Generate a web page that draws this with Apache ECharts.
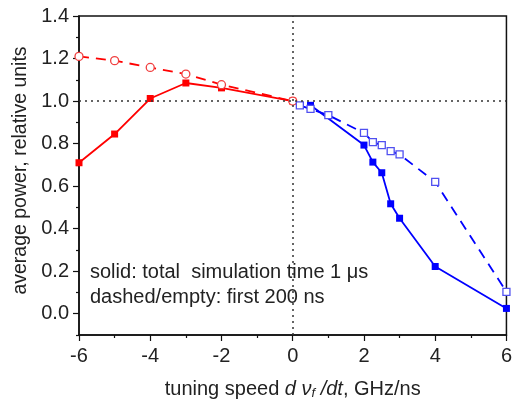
<!DOCTYPE html>
<html>
<head>
<meta charset="utf-8">
<script src="https://cdn.jsdelivr.net/npm/echarts@6/dist/echarts.min.js"></script>
<style>html,body{margin:0;padding:0;background:#fff}#c{width:515px;height:405px}</style>
</head>
<body>
<div id="c"></div>
<script>
// ---- data ----
const redSolidX = [-6, -5, -4, -3, -2, 0];
const redSolidY = [0.71, 0.845, 1.012, 1.085, 1.062, 1.0];
const redDashX = [-6, -5, -4, -3, -2, 0];
const redDashY = [1.21, 1.19, 1.158, 1.127, 1.077, 1.0];
const blueSolidX = [0.5, 2, 2.25, 2.5, 2.75, 3, 4, 6];
const blueSolidY = [0.98, 0.793, 0.713, 0.663, 0.517, 0.449, 0.222, 0.025];
const blueDashX = [0.2, 0.5, 1, 2, 2.25, 2.5, 2.75, 3, 4, 6];
const blueDashY = [0.98, 0.963, 0.934, 0.85, 0.807, 0.793, 0.765, 0.749, 0.62, 0.103];
const yMajorTicks = [0.0, 0.2, 0.4, 0.6, 0.8, 1.0, 1.2, 1.4];
const yMinorTicks = [-0.1, 0.1, 0.3, 0.5, 0.7, 0.9, 1.1, 1.3];
const xTicks = [-6, -4, -2, 0, 2, 4, 6];
const note1 = 'solid: total  simulation time 1 \u03bcs';
const note2 = 'dashed/empty: first 200 ns';

const zip = (xs, ys) => xs.map((x, i) => [x, ys[i]]);
const FONT = '"Liberation Sans", Arial, sans-serif';
const RED = '#ff0000', BLUE = '#0000ff';

const chart = echarts.init(document.getElementById('c'), null, {renderer: 'canvas'});
chart.setOption({
  animation: false,
  backgroundColor: '#fff',
  grid: {left: 79, right: 4, top: 16, bottom: 68, show: true, borderColor: '#111', borderWidth: 1.5, backgroundColor: 'transparent'},
  xAxis: {
    type: 'value', min: xTicks[0], max: xTicks[xTicks.length - 1], interval: 2,
    axisLine: {onZero: false, lineStyle: {color: '#111', width: 1.5}},
    axisTick: {length: 6, lineStyle: {color: '#111', width: 1.2}},
    minorTick: {show: true, splitNumber: 2, length: 3, lineStyle: {color: '#111', width: 1.2}},
    splitLine: {show: false},
    axisLabel: {fontFamily: FONT, fontSize: 20, color: '#222', margin: 11},
    name: '{n|tuning speed }{i|d \u03bd}{s|f}{i| /dt}{n|, GHz/ns}',
    nameLocation: 'middle', nameGap: 43,
    nameTextStyle: {
      fontFamily: FONT, fontSize: 20, color: '#222',
      rich: {
        n: {fontFamily: FONT, fontSize: 20, color: '#222'},
        i: {fontFamily: FONT, fontSize: 20, color: '#222', fontStyle: 'italic'},
        s: {fontFamily: FONT, fontSize: 13, color: '#222', fontStyle: 'italic', padding: [9, 0, 0, 0]}
      }
    }
  },
  yAxis: [{
    type: 'value', min: -0.1, max: 1.4,
    axisLine: {onZero: false, lineStyle: {color: '#111', width: 1.5}},
    axisTick: {length: 6, customValues: yMajorTicks, lineStyle: {color: '#111', width: 1.2}},
    splitLine: {show: false},
    axisLabel: {fontFamily: FONT, fontSize: 20, color: '#222', margin: 10, customValues: yMajorTicks, formatter: v => v.toFixed(1)},
    name: 'average power, relative units', nameLocation: 'middle', nameGap: 48,
    nameTextStyle: {fontFamily: FONT, fontSize: 19.5, color: '#222', padding: [0, 0, 0, 10]}
  }, {
    type: 'value', min: -0.1, max: 1.4, position: 'left', offset: 0,
    axisLine: {show: false, onZero: false},
    axisTick: {length: 3, customValues: yMinorTicks, lineStyle: {color: '#111', width: 1.2}},
    axisLabel: {show: false},
    splitLine: {show: false}
  }],
  graphic: [
    {type: 'text', x: 90, y: 272, style: {text: note1, font: '20px ' + FONT, fill: '#222', verticalAlign: 'middle'}, z: 10},
    {type: 'text', x: 90, y: 297, style: {text: note2, font: '20px ' + FONT, fill: '#222', verticalAlign: 'middle'}, z: 10}
  ],
  series: [
    {
      type: 'line', data: zip(redSolidX, redSolidY), symbol: 'rect', symbolSize: 7,
      lineStyle: {color: RED, width: 1.8}, itemStyle: {color: RED}, z: 3,
      markLine: {
        silent: true, symbol: 'none', label: {show: false},
        lineStyle: {color: '#333', width: 1.5, type: [2, 4]},
        data: [{yAxis: 1.0}, {xAxis: 0}]
      }
    },
    {
      type: 'line', data: zip(redDashX, redDashY), symbol: 'circle', symbolSize: 8,
      lineStyle: {color: RED, width: 1.8, type: [10, 7]},
      itemStyle: {color: '#fff', borderColor: '#f04040', borderWidth: 1.3}, z: 4
    },
    {
      type: 'line', data: zip(blueSolidX, blueSolidY), symbol: 'rect', symbolSize: 7,
      lineStyle: {color: BLUE, width: 1.8}, itemStyle: {color: BLUE}, z: 3
    },
    {
      type: 'line', data: zip(blueDashX, blueDashY), symbol: 'rect', symbolSize: 7,
      lineStyle: {color: BLUE, width: 1.8, type: [10, 7]},
      itemStyle: {color: '#fff', borderColor: '#5050f0', borderWidth: 1.3}, z: 4
    }
  ]
});
</script>
</body>
</html>
